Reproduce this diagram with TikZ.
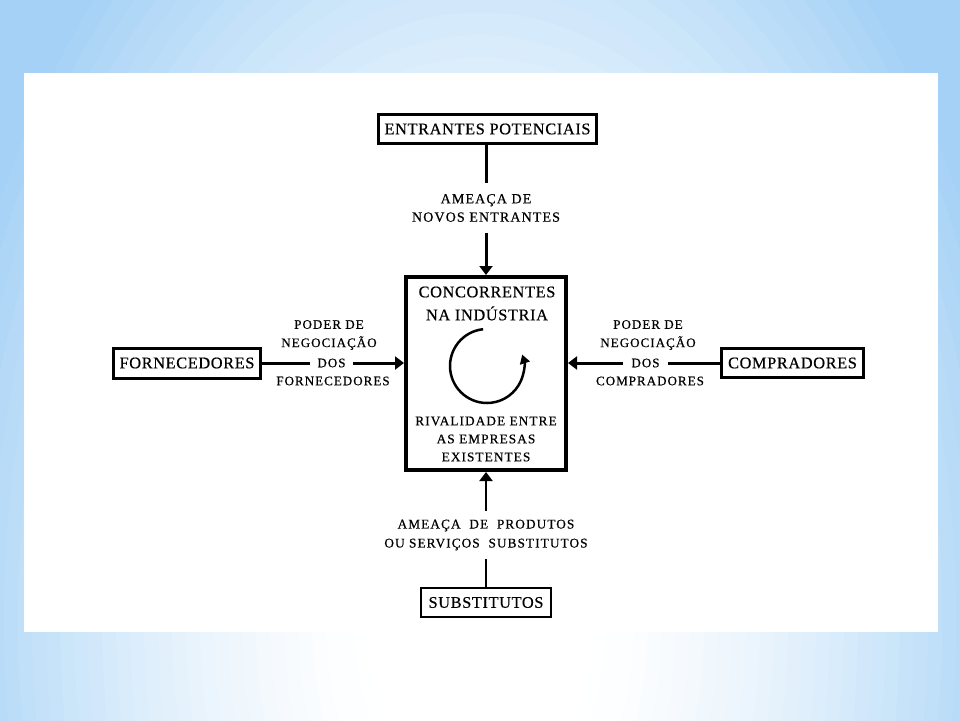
\documentclass[tikz,border=0pt]{standalone}
\usepackage{fontspec}
\setmainfont{Liberation Serif}
\newfontfamily\boxf[LetterSpace=4,FakeBold=0.5]{Liberation Serif}
\newfontfamily\lblf[LetterSpace=8,FakeBold=0.5]{Liberation Serif}
\usetikzlibrary{arrows.meta}
\definecolor{bgblue}{HTML}{A4D1F5}
\tikzset{
  boxa/.style={draw=black, line width=3pt, fill=white, inner sep=0pt, font=\boxf\fontsize{16.3}{18}\selectfont},
  lbl/.style={inner sep=0pt, align=center, font=\lblf\fontsize{13}{18.3}\selectfont},
  conn/.style={line width=3pt},
  arr/.style={line width=3pt, -{Triangle[length=9pt,width=13pt]}},
}
\begin{document}
\begin{tikzpicture}[x=1pt,y=-1pt]
\useasboundingbox (0,0) rectangle (960,720);
\begin{scope}
\clip (0,0) rectangle (960,720);
\foreach \k in {0,...,47}{
  \pgfmathsetmacro\tt{1.2-\k*0.025}
  \pgfmathsetmacro\pp{100*pow(max(0.001,min(1,(\tt-0.2)/0.8)),1.5)}
  \fill[bgblue!\pp!white] (480,620) ellipse [x radius=560*\tt, y radius=900*\tt];
}
\end{scope}
\fill[white] (24,73) rectangle (938,632);

% boxes
\node[boxa, minimum width=218pt, minimum height=29pt] (ent) at (487.5,129) {ENTRANTES POTENCIAIS};
\node[boxa, line width=4pt, minimum width=160pt, minimum height=193pt] (cen) at (486,373.5) {};
\node[boxa, minimum width=147pt, minimum height=30pt] (forn) at (187,363) {FORNECEDORES};
\node[boxa, minimum width=142pt, minimum height=29pt] (comp) at (792.5,363) {COMPRADORES};
\node[boxa, line width=2pt, minimum width=130pt, minimum height=29pt] (subs) at (486,602.5) {SUBSTITUTOS};

% text inside central box
\node[lbl, font=\boxf\fontsize{16.3}{23}\selectfont] (cent1) at (487,303.5) {CONCORRENTES\\NA INDÚSTRIA};
\node[lbl, font=\lblf\fontsize{13.3}{18}\selectfont] (cent2) at (486,439) {RIVALIDADE ENTRE\\AS EMPRESAS\\EXISTENTES};
\coordinate (rot) at (487,366);
\draw[line width=2.5pt, -{Triangle[length=9pt,width=10pt]}] ([shift={(-96:37)}]rot) arc[start angle=-96, end angle=-378, radius=37];

% top force
\node[lbl, minimum height=49pt, font=\lblf\fontsize{14}{18.3}\selectfont] (lt) at (486,208) {AMEAÇA DE\\NOVOS ENTRANTES};
\draw[conn] (ent.south -| lt) -- (lt.north);
\draw[arr] (lt.south) -- (lt.south |- cen.north);

% left force
\node[lbl] (ll1) at (329,335) {PODER DE\\NEGOCIAÇÃO};
\node[lbl, minimum width=43pt] (dosl) at (331.5,363) {DOS};
\node[lbl] (ll2) at (333,381) {FORNECEDORES};
\draw[conn] (forn.east) -- (dosl.west);
\draw[arr] (dosl.east) -- (dosl.east -| cen.west);

% right force
\node[lbl] (lr1) at (648,335) {PODER DE\\NEGOCIAÇÃO};
\node[lbl, minimum width=45pt] (dosr) at (645.5,363) {DOS};
\node[lbl] (lr2) at (650,381) {COMPRADORES};
\draw[conn] (comp.west) -- (dosr.east);
\draw[arr] (dosr.west) -- (dosr.west -| cen.east);

% bottom force
\node[lbl, minimum height=48pt, font=\lblf\fontsize{13.3}{19}\selectfont] (lb) at (486,535) {AMEAÇA\ \ DE\ \ PRODUTOS\\OU SERVIÇOS\ \ SUBSTITUTOS};
\draw[conn, line width=2.5pt] (subs.north -| lb) -- (lb.south);
\draw[arr, line width=2.5pt] (lb.north) -- (lb.north |- cen.south);
\end{tikzpicture}
\end{document}
